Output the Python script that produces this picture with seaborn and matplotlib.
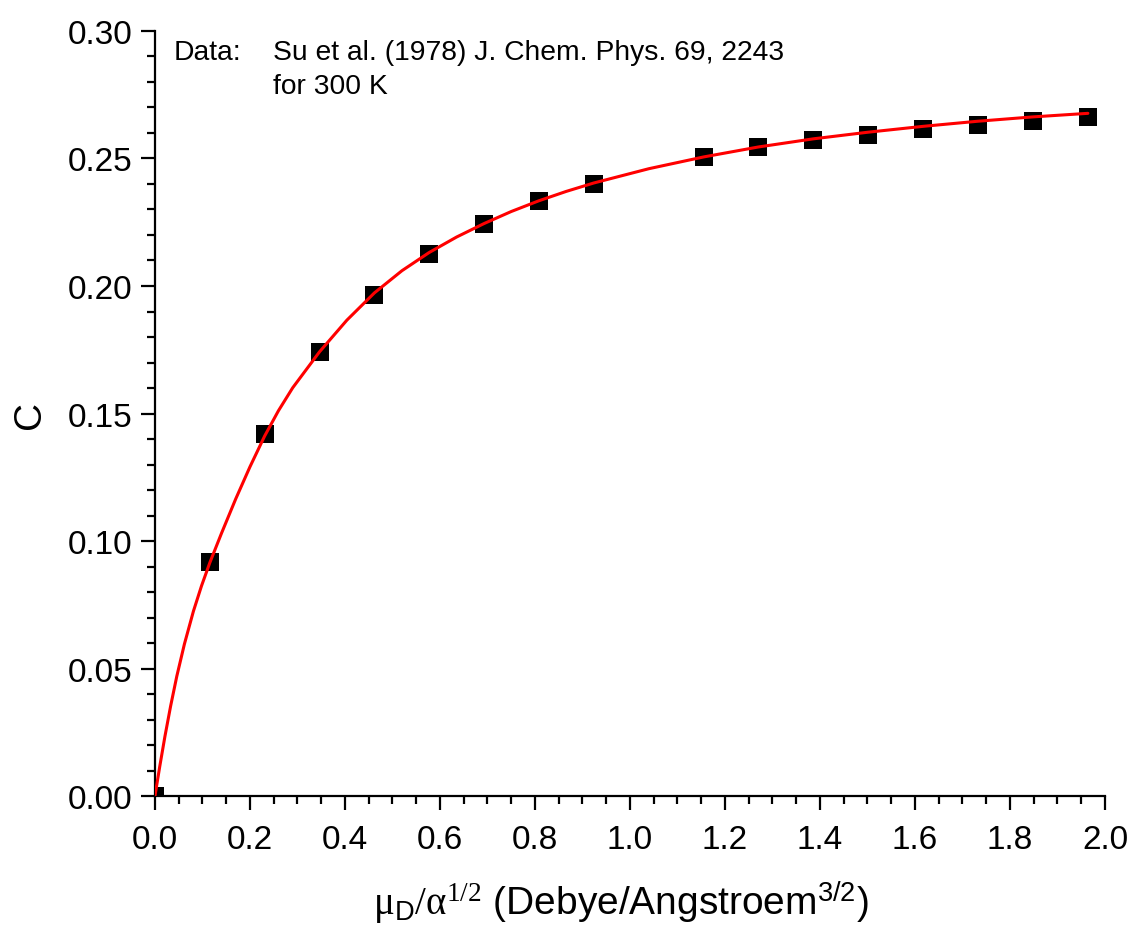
import numpy as np
import pandas as pd
import matplotlib
matplotlib.use("Agg")
import matplotlib.pyplot as plt
import seaborn as sns
from matplotlib.ticker import MultipleLocator, FormatStrFormatter

# measured points (Su et al. 1978, 300 K)
mu_alpha = [0.0, 0.1155, 0.231, 0.3465, 0.462, 0.577, 0.693, 0.808, 0.924,
            1.155, 1.27, 1.386, 1.501, 1.617, 1.732, 1.848, 1.964]
c_data = [0.0, 0.0918, 0.142, 0.174, 0.1965, 0.2125, 0.2243, 0.2333, 0.240,
          0.2505, 0.2545, 0.2573, 0.2592, 0.2616, 0.2631, 0.2647, 0.2663]

# fitted curve
fit_x = [0.0, 0.01, 0.021, 0.033, 0.046, 0.062, 0.081, 0.098, 0.1155, 0.14,
         0.17, 0.2, 0.231, 0.26, 0.29, 0.3465, 0.404, 0.462, 0.52, 0.577,
         0.635, 0.693, 0.75, 0.808, 0.866, 0.924, 1.04, 1.155, 1.27, 1.386,
         1.501, 1.617, 1.732, 1.848, 1.964]
fit_c = [0.0, 0.0115, 0.0234, 0.0353, 0.047, 0.0596, 0.0725, 0.0824, 0.0915,
         0.1030, 0.1165, 0.1291, 0.1412, 0.1511, 0.1601, 0.1742, 0.1866,
         0.1973, 0.2060, 0.2131, 0.2192, 0.2245, 0.2292, 0.2334, 0.2371,
         0.2404, 0.2460, 0.2506, 0.2545, 0.2577, 0.2603, 0.2626, 0.2646,
         0.2663, 0.2677]

sns.set_style("ticks")
plt.rcParams["font.family"] = ["Liberation Sans", "DejaVu Sans"]
plt.rcParams["mathtext.fontset"] = "custom"
plt.rcParams["mathtext.rm"] = "Liberation Serif"
plt.rcParams["mathtext.it"] = "Liberation Serif:italic"
plt.rcParams["mathtext.sf"] = "Liberation Sans"
plt.rcParams["text.color"] = "black"
plt.rcParams["axes.labelcolor"] = "black"

pts = pd.DataFrame({"x": mu_alpha, "C": c_data})
fit = pd.DataFrame({"x": fit_x, "C": fit_c})

fig = plt.figure(figsize=(11.36, 9.29), dpi=100)
ax = fig.add_axes([0.1364, 0.142, 0.8363, 0.8236])

sns.scatterplot(data=pts, x="x", y="C", marker="s", s=170, color="black",
                linewidth=0, ax=ax, zorder=2)
sns.lineplot(data=fit, x="x", y="C", color="red", linewidth=2.2,
             estimator=None, ax=ax, zorder=3)

ax.set_xlim(0, 2.0)
ax.set_ylim(0, 0.30)
ax.xaxis.set_major_locator(MultipleLocator(0.2))
ax.xaxis.set_minor_locator(MultipleLocator(0.05))
ax.yaxis.set_major_locator(MultipleLocator(0.05))
ax.yaxis.set_minor_locator(MultipleLocator(0.01))
ax.xaxis.set_major_formatter(FormatStrFormatter("%.1f"))
ax.yaxis.set_major_formatter(FormatStrFormatter("%.2f"))

sns.despine(ax=ax)
for side in ["left", "bottom"]:
    ax.spines[side].set_linewidth(1.6)
    ax.spines[side].set_color("black")
ax.tick_params(which="major", direction="out", length=10, width=1.6,
               labelsize=24, colors="black")
ax.tick_params(axis="x", which="major", pad=10)
ax.tick_params(axis="y", which="major", pad=6)
ax.tick_params(which="minor", direction="out", length=5.5, width=1.6,
               colors="black")

ax.set_xlabel(r"$\mathrm{\mu_{\mathsf{D}}/\alpha^{1/2}}$ (Debye/Angstroem$^{\mathsf{3/2}}$)",
              fontsize=28)
ax.xaxis.set_label_coords(0.49, -0.108)
ax.set_ylabel("C", fontsize=28)
ax.yaxis.set_label_coords(-0.1126, 0.5)

ax.text(0.04, 0.2968, "Data:", fontsize=20.3, va="top", ha="left")
ax.text(0.248, 0.2968, "Su et al. (1978) J. Chem. Phys. 69, 2243\nfor 300 K",
        fontsize=20.3, va="top", ha="left", linespacing=1.4)

fig.savefig("out.png", dpi=100)
